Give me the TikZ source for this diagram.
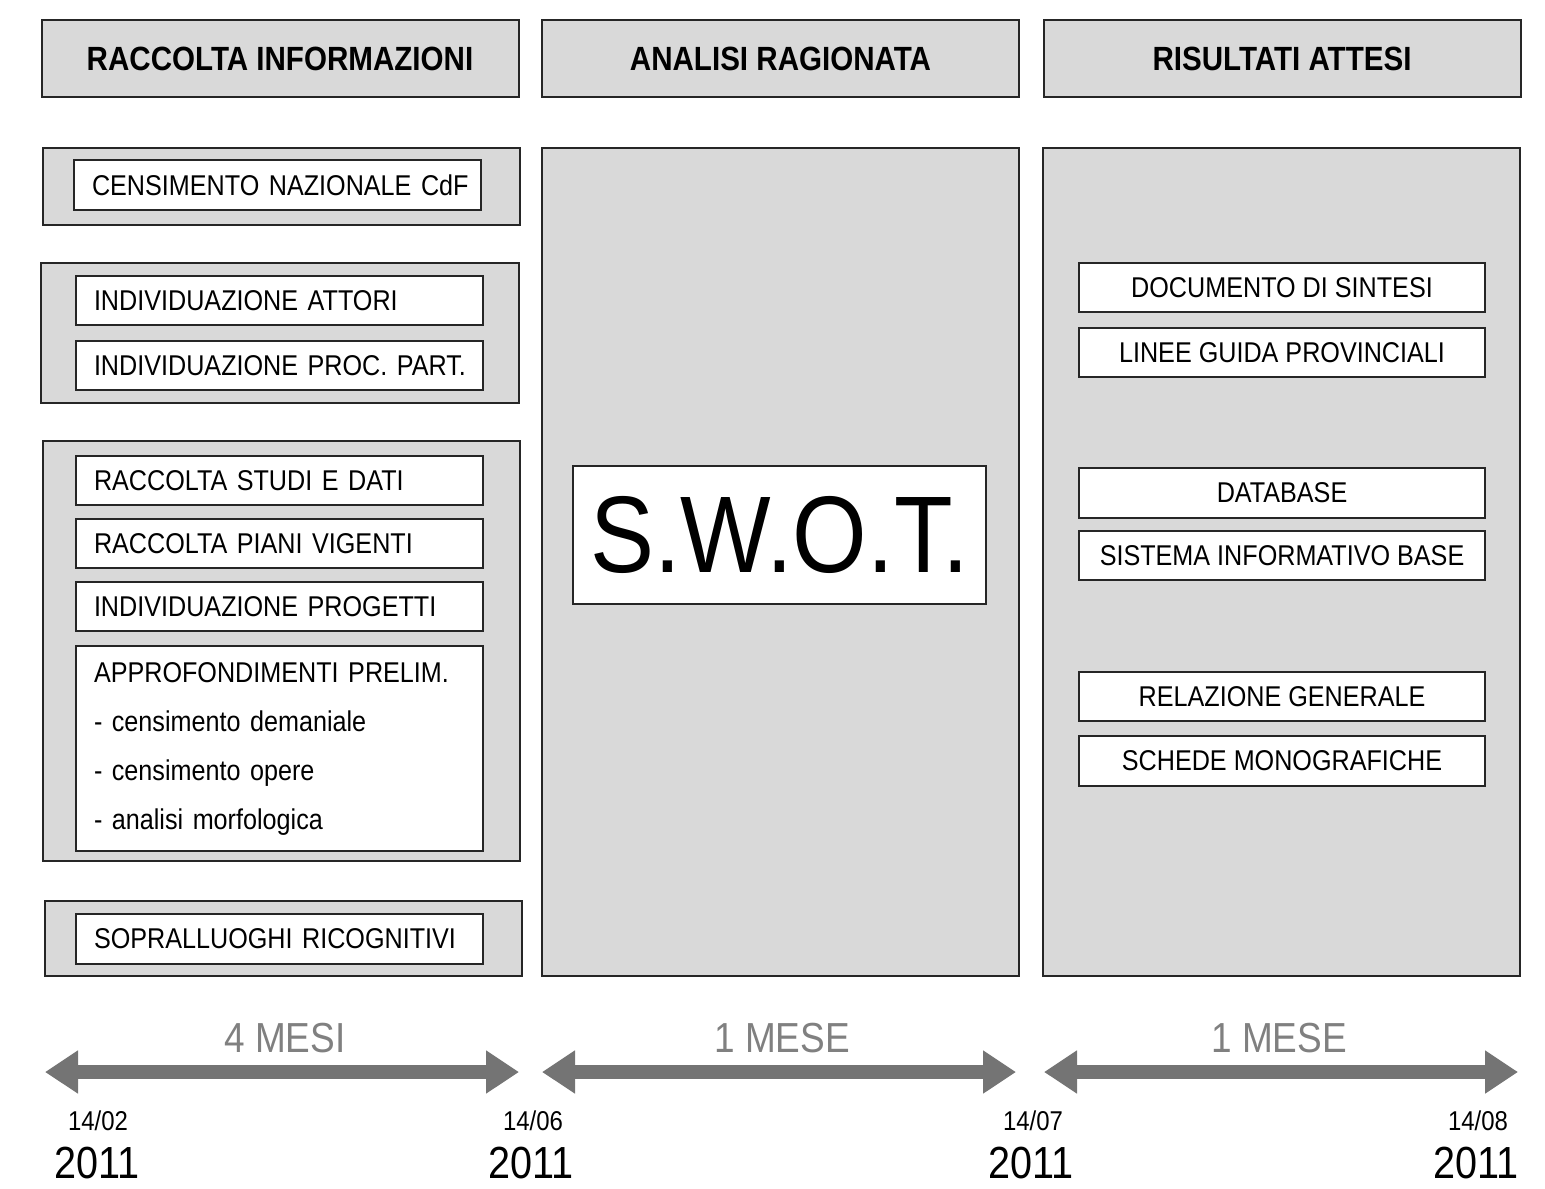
\documentclass[tikz,border=0pt]{standalone}
\usepackage{fontspec}
\setmainfont{Liberation Sans}[FakeStretch=0.88]
\usetikzlibrary{arrows.meta}
\definecolor{boxgray}{HTML}{D9D9D9}
\definecolor{edgegray}{HTML}{262626}
\definecolor{arrgray}{HTML}{747474}
\definecolor{labgray}{HTML}{808080}
\begin{document}
\begin{tikzpicture}[x=0.5pt,y=-0.5pt,
  hdr/.style={draw=edgegray,line width=1pt,fill=boxgray,minimum width=238.5pt,minimum height=38.5pt,inner sep=0pt,font=\fontsize{16.8pt}{18pt}\selectfont\bfseries},
  grp/.style={draw=edgegray,line width=1pt,fill=boxgray,inner sep=0pt},
  lbox/.style={draw=edgegray,line width=1pt,fill=white,minimum width=203.5pt,minimum height=24.5pt,inner xsep=9pt,inner ysep=0pt,text width=185.5pt,align=left,font=\fontsize{14.3pt}{24.5pt}\selectfont},
  rbox/.style={draw=edgegray,line width=1pt,fill=white,minimum width=203pt,minimum height=24.5pt,inner sep=0pt,font=\fontsize{14.3pt}{17pt}\selectfont},
  tl/.style={draw=arrgray,line width=7pt,arrows={Triangle[length=16.5pt,width=20.5pt]-Triangle[length=16.5pt,width=20.5pt]}},
  dur/.style={text=labgray,font=\fontsize{21pt}{24pt}\selectfont},
  day/.style={font=\fontsize{13.6pt}{16pt}\selectfont},
  yr/.style={font=\fontsize{22.5pt}{26pt}\selectfont}]
\useasboundingbox (0,0) rectangle (1545,1188);
% headers
\node[hdr] (h1) at (280,58.5) {RACCOLTA INFORMAZIONI};
\node[hdr] (h2) at (780.5,58.5) {ANALISI RAGIONATA};
\node[hdr] (h3) at (1282,58.5) {RISULTATI ATTESI};
% left groups
\node[grp,minimum width=238.5pt,minimum height=38.5pt] (g1) at (281.5,186.5) {};
\node[grp,minimum width=239pt,minimum height=70pt] (g2) at (280,333) {};
\node[grp,minimum width=238.5pt,minimum height=210pt] (g3) at (281.5,651) {};
\node[grp,minimum width=238.5pt,minimum height=37.5pt] (g4) at (283.5,938.5) {};
% middle and right columns
\node[grp,minimum width=238.5pt,minimum height=414pt] (mid) at (780.5,562) {};
\node[grp,minimum width=238.5pt,minimum height=414pt] (rgt) at (1281.5,562) {};
% left inner boxes
\node[lbox,minimum height=25pt] (c1) at (277.5,185) {\mbox{CENSIMENTO NAZIONALE CdF}};
\node[lbox] (a1) at (279.5,300.5) {\mbox{INDIVIDUAZIONE ATTORI}};
\node[lbox] (a2) at (279.5,365.5) {\mbox{INDIVIDUAZIONE PROC. PART.}};
\node[lbox] (r1) at (279.5,480.5) {\mbox{RACCOLTA STUDI E DATI}};
\node[lbox] (r2) at (279.5,543.5) {\mbox{RACCOLTA PIANI VIGENTI}};
\node[lbox] (r3) at (279.5,606.5) {\mbox{INDIVIDUAZIONE PROGETTI}};
\node[lbox,minimum height=102.5pt] (r4) at (279.5,748.5) {\mbox{APPROFONDIMENTI PRELIM.}\\\mbox{- censimento demaniale}\\\mbox{- censimento opere}\\\mbox{- analisi morfologica}};
\node[lbox,minimum height=25pt] (s1) at (279.5,939) {\mbox{SOPRALLUOGHI RICOGNITIVI}};
% SWOT
\node[draw=edgegray,line width=1pt,fill=white,minimum width=206.5pt,minimum height=69pt,inner sep=0pt,font=\fontsize{54.5pt}{58pt}\selectfont] (swot) at (779.5,535) {S.W.O.T.};
% right inner boxes
\node[rbox] (d1) at (1282,287.5) {DOCUMENTO DI SINTESI};
\node[rbox] (d2) at (1282,352.5) {LINEE GUIDA PROVINCIALI};
\node[rbox,minimum height=25pt] (d3) at (1282,493) {DATABASE};
\node[rbox] (d4) at (1282,555.5) {SISTEMA INFORMATIVO BASE};
\node[rbox] (d5) at (1282,696.5) {RELAZIONE GENERALE};
\node[rbox,minimum height=25pt] (d6) at (1282,761) {SCHEDE MONOGRAFICHE};
% timeline
\coordinate (t1a) at (45,1072);
\coordinate (t1b) at (519,1072);
\coordinate (t2a) at (542,1072);
\coordinate (t2b) at (1016,1072);
\coordinate (t3a) at (1044,1072);
\coordinate (t3b) at (1518,1072);
\draw[tl] (t1a) -- (t1b);
\draw[tl] (t2a) -- (t2b);
\draw[tl] (t3a) -- (t3b);
\node[dur] (m1) at (285,1038) {4 MESI};
\node[dur] (m2) at (782,1038) {1 MESE};
\node[dur] (m3) at (1279,1038) {1 MESE};
\node[day] (p1) at (98,1121) {14/02};
\node[day] (p2) at (533,1121) {14/06};
\node[day] (p3) at (1033,1121) {14/07};
\node[day] (p4) at (1478,1121) {14/08};
\node[yr] (y1) at (97,1163) {2011};
\node[yr] (y2) at (531,1163) {2011};
\node[yr] (y3) at (1031,1163) {2011};
\node[yr] (y4) at (1476,1163) {2011};
\end{tikzpicture}
\end{document}
